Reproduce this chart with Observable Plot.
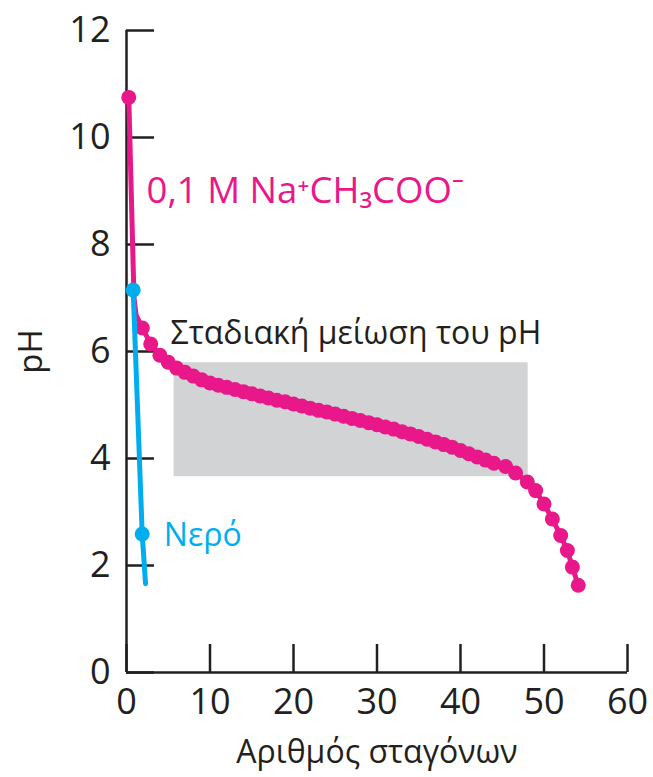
<!DOCTYPE html>
<html>
<head>
<meta charset="utf-8">
<script src="https://cdn.jsdelivr.net/npm/d3@7"></script>
<script src="https://cdn.jsdelivr.net/npm/@observablehq/plot@0.6"></script>
<style>
  html, body { margin: 0; padding: 0; background: #ffffff; }
</style>
</head>
<body>
<div id="chart"></div>
<script>
// ---- Tick labels ----
const xTicks = [0, 10, 20, 30, 40, 50, 60];
const yTicks = [0, 2, 4, 6, 8, 10, 12];

// ---- 0,1 M sodium acetate series ----
const naTopDrops = [0.27];
const naTopPH = [10.75];
const naBendDrops = [0.9, 1.15];
const naBendPH = [7.0, 6.68];
const naDrops = [1.9, 2.9, 4, 5, 6, 7, 8, 9, 10, 11, 12, 13, 14, 15, 16, 17, 18, 19, 20,
  21, 22, 23, 24, 25, 26, 27, 28, 29, 30, 31, 32, 33, 34, 35, 36, 37, 38, 39, 40,
  41, 42, 43, 44, 45.4, 46.6, 48, 49, 50, 51, 52, 52.8, 53.4, 54.1];
const naPH = [6.44, 6.14, 5.93, 5.80, 5.69, 5.61, 5.54, 5.47, 5.41, 5.37, 5.33, 5.29, 5.25, 5.21, 5.17, 5.13, 5.09, 5.06, 5.02,
  4.98, 4.94, 4.90, 4.87, 4.83, 4.79, 4.75, 4.71, 4.67, 4.63, 4.59, 4.55, 4.50, 4.46, 4.41, 4.36, 4.31, 4.26, 4.21, 4.15,
  4.09, 4.03, 3.97, 3.91, 3.85, 3.73, 3.56, 3.40, 3.15, 2.87, 2.56, 2.28, 1.97, 1.63];

// ---- Water series ----
const waterDrops = [0.8, 1.88];
const waterPH = [7.15, 2.59];
const waterEndDrops = [2.28];
const waterEndPH = [1.66];

// ---- Shaded region ("gradual decrease") ----
const shadeDrops = [5.7, 48.1];
const shadePH = [3.66, 5.79];

// ---- Texts ----
const labelTexts = ["0,1 M Na⁺CH₃COO⁻", "Σταδιακή μείωση του pH", "Νερό"];
const labelDrops = [2.4, 5.27, 4.47];
const labelPH = [8.77, 6.14, 2.37];
const labelSizes = [36.5, 32, 32];
const xTitle = "Αριθμός σταγόνων";
const yTitle = "pH";

// ---- Styles ----
const MAGENTA = "#e8178a";
const CYAN = "#00aeef";
const GRAY = "#d1d3d4";
const INK = "#231f20";
const FONT = "'Open Sans', 'Noto Sans', 'DejaVu Sans', sans-serif";
const labelColors = [MAGENTA, INK, CYAN];

// ---- Build tables ----
const pts = (xs, ys) => xs.map((x, i) => ({x, y: ys[i]}));
const naLine = [...pts(naTopDrops, naTopPH), ...pts(naBendDrops, naBendPH), ...pts(naDrops, naPH)];
const naDots = [...pts(naTopDrops, naTopPH), ...pts(naDrops, naPH)];
const waterLine = [...pts(waterDrops, waterPH), ...pts(waterEndDrops, waterEndPH)];
const waterDots = pts(waterDrops, waterPH);
const shade = [{x1: shadeDrops[0], x2: shadeDrops[1], y1: shadePH[0], y2: shadePH[1]}];
const labels = labelTexts.map((t, i) => ({t, x: labelDrops[i], y: labelPH[i], c: labelColors[i], s: labelSizes[i]}));

const xMin = d3.min(xTicks), xMax = d3.max(xTicks);
const yMin = d3.min(yTicks), yMax = d3.max(yTicks);

const chart = Plot.plot({
  width: 653,
  height: 777,
  marginLeft: 126,
  marginRight: 26,
  marginTop: 30,
  marginBottom: 105,
  x: {domain: [xMin, xMax]},
  y: {domain: [yMin, yMax]},
  style: {fontFamily: FONT, background: "#ffffff", overflow: "visible"},
  marks: [
    Plot.rect(shade, {x1: "x1", x2: "x2", y1: "y1", y2: "y2", fill: GRAY}),
    Plot.axisX(xTicks, {anchor: "bottom", tickSize: -28, tickPadding: 44, fontSize: 36,
      color: INK, strokeWidth: 2.5, label: null, tickFormat: d => String(d)}),
    Plot.axisY(yTicks, {anchor: "left", tickSize: -28, tickPadding: 44, fontSize: 36,
      color: INK, strokeWidth: 2.5, label: null, tickFormat: d => String(d)}),
    Plot.ruleX([xMin], {y1: yMin, y2: yMax, stroke: INK, strokeWidth: 2.5}),
    Plot.ruleY([yMin], {x1: xMin, x2: xMax, stroke: INK, strokeWidth: 2.5}),
    Plot.line(naLine, {x: "x", y: "y", stroke: MAGENTA, strokeWidth: 5}),
    Plot.dot(naDots, {x: "x", y: "y", r: 7.5, fill: MAGENTA}),
    Plot.line(waterLine, {x: "x", y: "y", stroke: CYAN, strokeWidth: 5}),
    Plot.dot(waterDots, {x: "x", y: "y", r: 7.5, fill: CYAN}),
    ...labels.map(l => Plot.text([l], {x: "x", y: "y", text: "t", fill: l.c, textAnchor: "start",
      lineAnchor: "bottom", fontSize: l.s})),
    Plot.text([xTitle], {frameAnchor: "bottom", dy: 90, lineAnchor: "bottom",
      textAnchor: "middle", fontSize: 32, fill: INK}),
    Plot.text([yTitle], {frameAnchor: "left", rotate: -90, dx: -95, textAnchor: "middle",
      lineAnchor: "middle", fontSize: 33, fill: INK})
  ]
});
document.getElementById("chart").appendChild(chart);
</script>
</body>
</html>
